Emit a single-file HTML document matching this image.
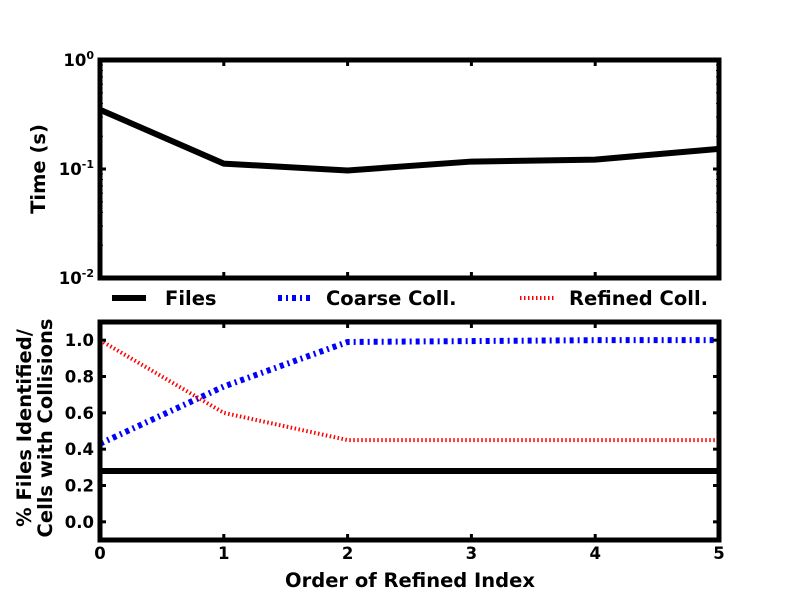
<!DOCTYPE html>
<html><head><meta charset="utf-8"><style>
body{margin:0;background:#fff}
svg text{font-family:"DejaVu Sans","Liberation Sans",sans-serif;font-weight:bold;fill:#000}
</style></head><body>
<svg id="c" width="800" height="600" xmlns="http://www.w3.org/2000/svg"></svg>
<script>
const categories=[0,1,2,3,4,5];
const timeFiles=[0.35,0.112,0.097,0.117,0.122,0.153];
const pctFiles=[0.28,0.28,0.28,0.28,0.28,0.28];
const pctCoarse=[0.43,0.745,0.99,0.995,1.0,1.0];
const pctRefined=[1.0,0.6,0.45,0.45,0.45,0.45];
const bottomTicks=[0.0,0.2,0.4,0.6,0.8,1.0];
const topTickExp=[0,-1,-2];
const legendLabels=["Files","Coarse Coll.","Refined Coll."];

const svg=document.getElementById('c');
const NS='http://www.w3.org/2000/svg';
function mk(t,a,p){const e=document.createElementNS(NS,t);for(const k in a)e.setAttribute(k,a[k]);(p||svg).appendChild(e);return e;}
const X0=100,X1=719;
const x=v=>X0+(v-0)/(5-0)*(X1-X0);
const T0=60,T1=278;
const yTop=v=>T0+(0-Math.log10(v))/2*(T1-T0);
const B0=322,B1=540;
const yBot=v=>B0+(1.1-v)/1.2*(B1-B0);
const coarseStyle={stroke:'#00f','stroke-width':6,'stroke-dasharray':'4,4,2,4'};
const refinedStyle={stroke:'#f00','stroke-width':4,'stroke-dasharray':'1.5,2.5'};

function line(xs,ys,attrs,name){
  const d=xs.map((v,i)=>(i?'L':'M')+x(v)+','+ys[i]).join(' ');
  const p=mk('path',Object.assign({d:d,fill:'none'},attrs));
  
  
}
line(categories,timeFiles.map(yTop),{stroke:'#000','stroke-width':6},'time-files-line');
for(let e=-2;e<0;e++)for(let m=2;m<10;m++){const yy=yTop(m*Math.pow(10,e));
  mk('line',{x1:X0,x2:X0+3,y1:yy,y2:yy,stroke:'#000','stroke-width':1});
  mk('line',{x1:X1,x2:X1-3,y1:yy,y2:yy,stroke:'#000','stroke-width':1});}
topTickExp.forEach(e=>{const yy=yTop(Math.pow(10,e));
  mk('line',{x1:X0,x2:X0+6,y1:yy,y2:yy,stroke:'#000','stroke-width':3});
  mk('line',{x1:X1,x2:X1-6,y1:yy,y2:yy,stroke:'#000','stroke-width':3});
  const t=mk('text',{x:X0-6,y:yy+6,'text-anchor':'end','font-size':16.5});
  
  
  t.innerHTML='10<tspan dy="-7" font-size="11">'+e+'</tspan>';
});
categories.forEach(c=>{const xx=x(c);
  mk('line',{x1:xx,x2:xx,y1:T0,y2:T0+6,stroke:'#000','stroke-width':3});
  mk('line',{x1:xx,x2:xx,y1:T1,y2:T1-6,stroke:'#000','stroke-width':3});});
const tf=mk('rect',{x:X0,y:T0,width:X1-X0,height:T1-T0,fill:'none',stroke:'#000','stroke-width':5});


const yt=mk('text',{x:0,y:0,'text-anchor':'middle','font-size':19.5,transform:'translate(45,169) rotate(-90)'});
yt.textContent='Time (s)';



line(categories,pctFiles.map(yBot),{stroke:'#000','stroke-width':6},'pct-files-line');
line(categories,pctCoarse.map(yBot),coarseStyle,'coarse-coll-line');
line(categories,pctRefined.map(yBot),refinedStyle,'refined-coll-line');
bottomTicks.forEach(v=>{const yy=yBot(v);
  mk('line',{x1:X0,x2:X0+6,y1:yy,y2:yy,stroke:'#000','stroke-width':3});
  mk('line',{x1:X1,x2:X1-6,y1:yy,y2:yy,stroke:'#000','stroke-width':3});
  const t=mk('text',{x:X0-6,y:yy+6,'text-anchor':'end','font-size':16.5});
  t.textContent=v.toFixed(1);
  
  });
categories.forEach(c=>{const xx=x(c);
  mk('line',{x1:xx,x2:xx,y1:B0,y2:B0+6,stroke:'#000','stroke-width':3});
  mk('line',{x1:xx,x2:xx,y1:B1,y2:B1-6,stroke:'#000','stroke-width':3});
  const t=mk('text',{x:xx,y:B1+19,'text-anchor':'middle','font-size':16.5});
  t.textContent=c;
  
  });
const bf=mk('rect',{x:X0,y:B0,width:X1-X0,height:B1-B0,fill:'none',stroke:'#000','stroke-width':5});


const by=mk('text',{x:0,y:0,'text-anchor':'middle','font-size':19.5,transform:'translate(31,428) rotate(-90)'});
by.innerHTML='<tspan x="0" dy="0">% Files Identified/</tspan><tspan x="0" dy="21">Cells with Collisions</tspan>';


const xt=mk('text',{x:410,y:587,'text-anchor':'middle','font-size':19.5});
xt.textContent='Order of Refined Index';



const legStyles=[{stroke:'#000','stroke-width':6},coarseStyle,refinedStyle];
const legX=[112,278,520];
const legTextX=[165,326,569];
legendLabels.forEach((l,i)=>{
  const s=mk('line',Object.assign({x1:legX[i],x2:legX[i]+34,y1:298,y2:298},legStyles[i]));
  
  
  const t=mk('text',{x:legTextX[i],y:305,'font-size':19.5});
  t.textContent=l;
  
  
});
</script>
</body></html>
